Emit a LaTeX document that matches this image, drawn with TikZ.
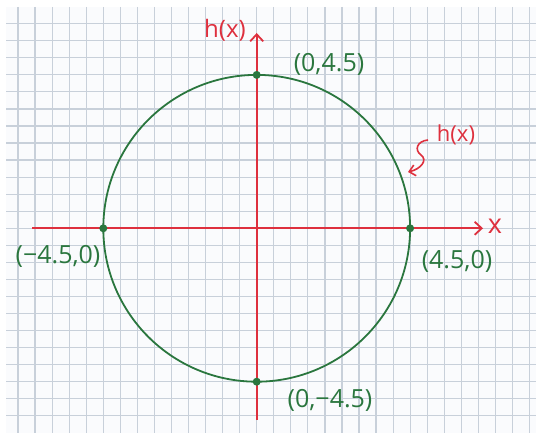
\documentclass[tikz,border=0pt]{standalone}
\usepackage{fontspec}
\setmainfont{Open Sans}
\usetikzlibrary{arrows.meta}
\definecolor{gridc}{RGB}{200,208,218}
\definecolor{paper}{RGB}{250,251,253}
\definecolor{axisred}{RGB}{222,48,62}
\definecolor{circgreen}{RGB}{42,118,62}
\tikzset{
  gridline/.style={draw=gridc, line width=1.2pt},
  axis/.style={draw=axisred, line width=1.8pt, -{Straight Barb[length=7pt,width=13pt,line width=1.8pt]}},
  curve/.style={draw=circgreen, line width=1.8pt},
  pt/.style={circle, fill=circgreen, inner sep=0pt, minimum size=8pt},
  glabel/.style={text=circgreen, font=\fontsize{25}{25}\selectfont, inner sep=0pt},
  rlabel/.style={text=axisred, font=\fontsize{24}{24}\selectfont, inner sep=0pt},
  curly/.style={draw=axisred, line width=1.6pt, -{Straight Barb[length=6pt,width=11pt,line width=1.6pt]}}
}
\begin{document}
\begin{tikzpicture}[x=1pt,y=-1pt]
\useasboundingbox (0,0) rectangle (536,433);
\fill[white] (0,0) rectangle (536,433);
\fill[paper] (6,7) rectangle (536,433);
% grid
\foreach \k in {0,...,30} {
  \draw[gridline] ({18+17.05*\k},7) -- ({18+17.05*\k},433);
}
\foreach \k in {0,...,23} {
  \draw[gridline] (6,{23.7+17.05*\k}) -- (536,{23.7+17.05*\k});
}
% origin and axis ends
\coordinate (O) at (256.7,228.3);
\coordinate (xl) at (32,228.3);
\coordinate (xr) at (483,228.3);
\coordinate (yb) at (256.7,420);
\coordinate (yt) at (256.7,33);
\draw[axis] (xl) -- (xr);
\draw[axis] (yb) -- (yt);
\node[rlabel, font=\fontsize{27}{27}\selectfont] (xlab) at (495,226) {x};
\node[rlabel] (hlab) at (225,30) {h(x)};
% circle
\draw[curve] (O) circle (153.4);
\node[pt] (ptop) at (256.7,74.9) {};
\node[pt] (pbot) at (256.7,381.7) {};
\node[pt] (pleft) at (103.3,228.3) {};
\node[pt] (pright) at (410.1,228.3) {};
% labels
\node[glabel] (ltop) at (329,64) {(0,4.5)};
\node[glabel] (lleft) at (58,256) {(−4.5,0)};
\node[glabel] (lright) at (457,261) {(4.5,0)};
\node[glabel] (lbot) at (330,400) {(0,−4.5)};
% h(x) pointer
\node[rlabel, font=\fontsize{22}{22}\selectfont] (hright) at (456,135) {h(x)};
\coordinate (cs) at (428,140);
\coordinate (ce) at (408,172);
\draw[curly] (cs) .. controls (417,141) and (414,150) .. (421,155)
  .. controls (428,160) and (421,169) .. (ce);
\end{tikzpicture}
\end{document}
